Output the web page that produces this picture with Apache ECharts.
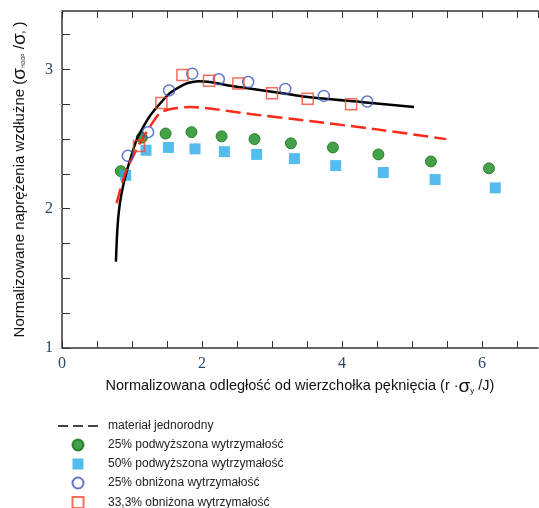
<!DOCTYPE html>
<html>
<head>
<meta charset="utf-8">
<script src="https://cdn.jsdelivr.net/npm/echarts@6/dist/echarts.min.js"></script>
<style>
  html, body { margin: 0; padding: 0; background: #fff; }
  #chart { width: 539px; height: 508px; }
</style>
</head>
<body>
<div id="chart"></div>
<script>
// values
const xTickLabels = [0, 2, 4, 6];
const yTickLabels = [1, 2, 3];

const solidLine = [[0.77,1.62],[0.785,1.80],[0.81,1.97],[0.85,2.11],[0.92,2.26],[1.07,2.50],[1.26,2.67],[1.54,2.83],
    [1.78,2.90],[1.95,2.915],[2.11,2.91],[2.45,2.88],[3.0,2.84],[3.54,2.80],[4.3,2.765],[5.03,2.73]];
const dashedLine = [[0.78,2.04],[0.90,2.25],[1.11,2.47],[1.40,2.69],[1.59,2.72],[1.83,2.73],[2.11,2.72],
    [2.69,2.68],[3.54,2.63],[4.5,2.57],[5.49,2.50]];
const up25 = [[0.84,2.27],[1.14,2.51],[1.48,2.54],[1.85,2.55],[2.28,2.52],[2.75,2.50],[3.27,2.47],
    [3.87,2.44],[4.52,2.39],[5.27,2.34],[6.10,2.29]];
const up50 = [[0.91,2.24],[1.20,2.42],[1.52,2.44],[1.90,2.43],[2.32,2.41],[2.78,2.39],[3.32,2.36],
    [3.91,2.31],[4.59,2.26],[5.33,2.21],[6.19,2.15]];
const down25 = [[0.94,2.38],[1.23,2.55],[1.53,2.85],[1.86,2.97],[2.24,2.93],[2.66,2.91],[3.19,2.86],
    [3.74,2.81],[4.36,2.77]];
const down33 = [[1.10,2.45],[1.42,2.76],[1.72,2.96],[2.10,2.92],[2.52,2.90],[3.0,2.83],[3.51,2.79],[4.13,2.75]];

const names = ['materiał jednorodny', '25% podwyższona wytrzymałość', '50% podwyższona wytrzymałość',
    '25% obniżona wytrzymałość', '33,3% obniżona wytrzymałość'];

const chart = echarts.init(document.getElementById('chart'));
const tickFont = {fontFamily: '"Liberation Serif", serif', fontSize: 16, color: '#27486a'};
const frame = {lineStyle: {color: '#333', width: 1.5}};
const squareIcon = 'path://M0,0h10v10h-10z';

chart.setOption({
    animation: false,
    grid: {left: 62, top: 11, right: 1, bottom: 160},
    xAxis: [{
        type: 'value', min: 0, max: 6.8, interval: 0.5,
        axisLine: frame, splitLine: {show: false},
        axisTick: {inside: true, length: 7, lineStyle: {color: '#333'}},
        axisLabel: Object.assign({margin: 8, showMaxLabel: false,
            formatter: v => xTickLabels.includes(v) ? String(v) : ''}, tickFont),
        name: 'Normalizowana odległość od wierzchołka pęknięcia (r ·{s|σ}{sub|y} /J)',
        nameLocation: 'middle', nameGap: 26,
        nameTextStyle: {fontFamily: '"Liberation Sans", Arial', fontSize: 14.5, color: '#111',
            rich: {s: {fontSize: 19, fontFamily: '"Liberation Sans", Arial', color: '#111'},
                   sub: {fontSize: 8, color: '#111', padding: [9, 0, 0, 0]}}}
    }, {
        type: 'value', position: 'top', min: 0, max: 6.8, interval: 0.5,
        axisLine: frame, splitLine: {show: false}, axisLabel: {show: false},
        axisTick: {inside: true, length: 7, lineStyle: {color: '#333'}}
    }],
    yAxis: [{
        type: 'value', min: 1, max: 3.42, interval: 0.25,
        axisLine: frame, splitLine: {show: false},
        axisTick: {inside: true, length: 8, lineStyle: {color: '#333'}},
        axisLabel: Object.assign({margin: 9, showMaxLabel: false,
            formatter: v => yTickLabels.includes(v) ? String(v) : ''}, tickFont),
        name: 'Normalizowane naprężenia wzdłużne ({s|σ}{sub|HOOP} /{s|σ}{sub|y} )',
        nameLocation: 'middle', nameGap: 33,
        nameTextStyle: {fontFamily: '"Liberation Sans", Arial', fontSize: 15, color: '#111',
            rich: {s: {fontSize: 19, fontFamily: '"Liberation Sans", Arial', color: '#111'},
                   sub: {fontSize: 5, color: '#111', padding: [8, 0, 0, 0]}}}
    }, {
        type: 'value', position: 'right', min: 1, max: 3.42, interval: 0.25,
        axisLine: {show: false}, splitLine: {show: false}, axisLabel: {show: false},
        axisTick: {inside: true, length: 3, lineStyle: {color: '#ccc'}}
    }],
    legend: {
        orient: 'vertical', left: 58, top: 420, padding: 0, height: 95,
        itemWidth: 40, itemHeight: 11, itemGap: 6.5,
        textStyle: {fontFamily: '"Liberation Sans", Arial', fontSize: 12, lineHeight: 12,
            color: '#222', padding: [0, 0, 0, 5]},
        data: [
            {name: names[0], icon: 'path://M0,0h10v2h-10z M15,0h10v2h-10z M30,0h10v2h-10z',
             itemStyle: {color: '#444'}},
            names[1],
            {name: names[2], icon: squareIcon},
            names[3],
            {name: names[4], icon: squareIcon}
        ]
    },
    series: [{
        name: 'solid', type: 'line', data: solidLine, smooth: 0.2, symbol: 'none',
        lineStyle: {color: '#000', width: 2.5}, z: 3
    }, {
        name: names[0], type: 'line', data: dashedLine, smooth: 0.2, symbol: 'none',
        itemStyle: {color: '#ff2a1a'},
        lineStyle: {color: '#ff2a1a', width: 2.5, type: [15, 6]}, z: 3
    }, {
        name: names[1], type: 'scatter', data: up25, symbol: 'circle', symbolSize: 11,
        itemStyle: {color: '#178a1c', borderColor: '#107014', borderWidth: 1}
    }, {
        name: names[2], type: 'scatter', data: up50, symbol: 'rect', symbolSize: 11,
        itemStyle: {color: '#2badea'}
    }, {
        name: names[3], type: 'scatter', data: down25, symbol: 'circle', symbolSize: 11,
        itemStyle: {color: 'rgba(255,255,255,0)', borderColor: '#3b55c4', borderWidth: 1.5}, z: 4
    }, {
        name: names[4], type: 'scatter', data: down33, symbol: 'rect', symbolSize: 11,
        itemStyle: {color: 'rgba(255,255,255,0)', borderColor: '#f04a33', borderWidth: 1.5}, z: 4
    }]
});
</script>
</body>
</html>
